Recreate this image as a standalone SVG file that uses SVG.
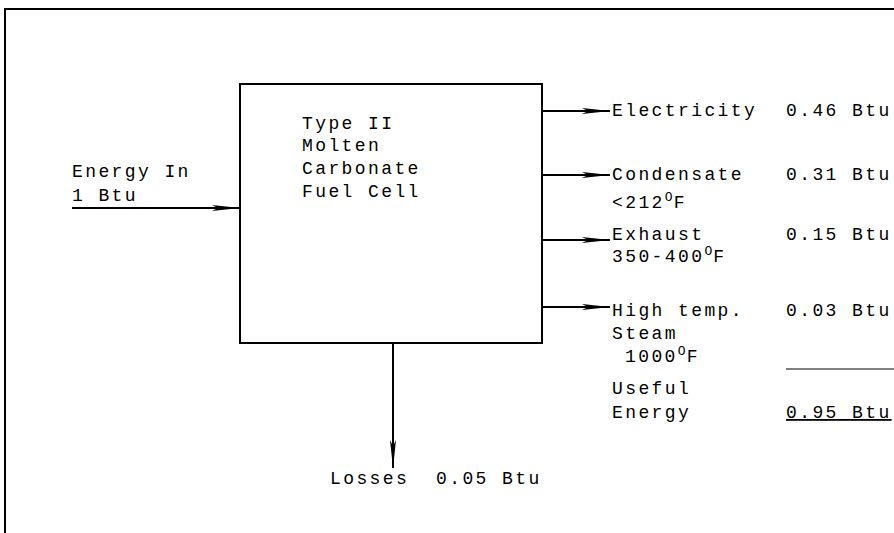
<svg xmlns="http://www.w3.org/2000/svg" width="894" height="533" viewBox="0 0 894 533">
<style>
text{font-family:"Liberation Mono","Courier New",monospace;font-size:18px;letter-spacing:2.4px;fill:#000}
.ln{stroke:#000;stroke-width:2;fill:none}
.sup{font-size:13px;letter-spacing:1px}
</style>
<defs>
<marker id="ah" markerUnits="userSpaceOnUse" markerWidth="30" markerHeight="12" refX="28" refY="6" orient="auto">
<path d="M0,3 L28,6 L0,9 L6,6 Z" fill="#000"/>
</marker>
</defs>
<rect width="894" height="533" fill="#fff"/>
<path class="ln" d="M5,533 L5,9 L894,9"/>
<g id="fuelcell">
<rect x="240" y="84" width="302" height="259" class="ln"/>
<text x="302" y="129">Type II</text>
<text x="302" y="151">Molten</text>
<text x="302" y="174">Carbonate</text>
<text x="302" y="197">Fuel Cell</text>
</g>
<g id="energyin">
<text x="72" y="177">Energy In</text>
<text x="72" y="201">1 Btu</text>
</g>
<g id="electricity">
<text x="612" y="116">Electricity</text>
<text x="786" y="116">0.46 Btu</text>
</g>
<g id="condensate">
<text x="612" y="180">Condensate</text>
<text x="786" y="180">0.31 Btu</text>
<text x="612" y="208">&lt;212<tspan class="sup" dy="-7">O</tspan><tspan dy="7">F</tspan></text>
</g>
<g id="exhaust">
<text x="612" y="240">Exhaust</text>
<text x="786" y="240">0.15 Btu</text>
<text x="612" y="262">350-400<tspan class="sup" dy="-7">O</tspan><tspan dy="7">F</tspan></text>
</g>
<g id="steam">
<text x="612" y="316">High temp.</text>
<text x="786" y="316">0.03 Btu</text>
<text x="612" y="339">Steam</text>
<text x="625" y="362">1000<tspan class="sup" dy="-7">O</tspan><tspan dy="7">F</tspan></text>
</g>
<g id="useful">
<line x1="786" y1="369" x2="894" y2="369" stroke="#000" stroke-width="1.2"/>
<text x="612" y="394">Useful</text>
<text x="612" y="418">Energy</text>
<text x="786" y="418" text-decoration="underline">0.95 Btu</text>
</g>
<g id="losses">
<text x="330" y="484">Losses</text>
<text x="436" y="484">0.05 Btu</text>
</g>
<g id="connectors">
<line class="ln" x1="72" y1="208" x2="240" y2="208" marker-end="url(#ah)"/>
<line class="ln" x1="542" y1="111" x2="610" y2="111" marker-end="url(#ah)"/>
<line class="ln" x1="542" y1="175" x2="610" y2="175" marker-end="url(#ah)"/>
<line class="ln" x1="542" y1="240" x2="610" y2="240" marker-end="url(#ah)"/>
<line class="ln" x1="542" y1="307" x2="610" y2="307" marker-end="url(#ah)"/>
<line class="ln" x1="393" y1="343" x2="393" y2="468" marker-end="url(#ah)"/>
</g>
</svg>
